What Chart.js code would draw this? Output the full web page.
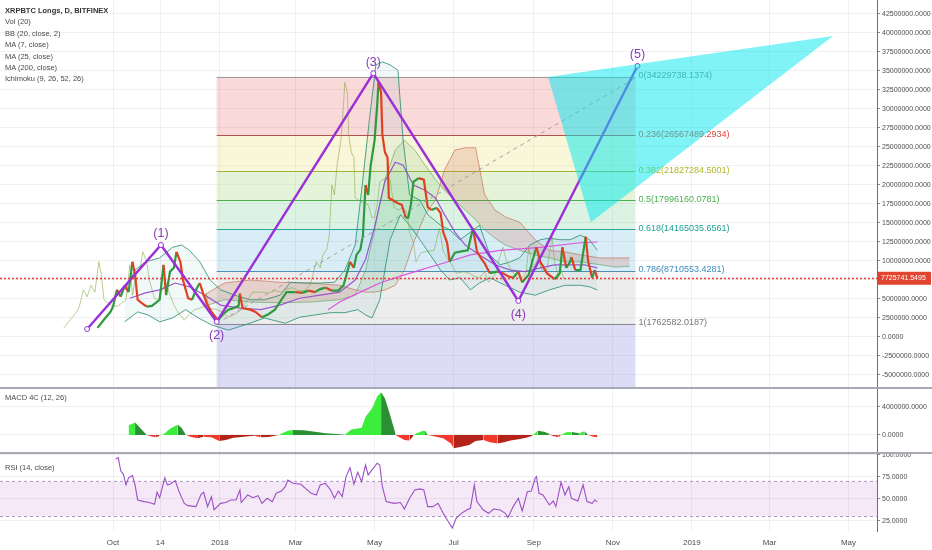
<!DOCTYPE html>
<html>
<head>
<meta charset="utf-8">
<script src="https://cdn.jsdelivr.net/npm/chart.js@4.4.1/dist/chart.umd.min.js"></script>
<style>
    body { margin: 0; background: #fff; width: 932px; height: 550px; overflow: hidden; position: relative;
           font-family: 'Liberation Sans', Arial, sans-serif; }
    canvas { position: absolute; left: 0; }
    #main { top: 0; }
    #macd { top: 389px; }
    #rsi { top: 454px; }
    .sep { position: absolute; left: 0; width: 932px; height: 2px; background: #a7aab2; }
    .legend { position: absolute; left: 5px; font-size: 7.5px; line-height: 11.4px; color: #4a4a4a; z-index: 2; white-space: nowrap; }
    .legend b { color: #333; }
</style>
</head>
<body>
<canvas id="main" width="932" height="387"></canvas>
<div class="sep" style="top:387px"></div>
<canvas id="macd" width="932" height="63"></canvas>
<div class="sep" style="top:452px"></div>
<canvas id="rsi" width="932" height="96"></canvas>

<div class="legend" style="top:5px">
    <b>XRPBTC Longs, D, BITFINEX</b><br>Vol (20)<br>BB (20, close, 2)<br>MA (7, close)<br>MA (25, close)<br>MA (200, close)<br>Ichimoku (9, 26, 52, 26)
</div>
<div class="legend" style="top:392px">MACD 4C (12, 26)</div>
<div class="legend" style="top:462px">RSI (14, close)</div>

<script>
// ---- data (x = daily bar number, Oct 2017 = 0; prices in millions) ----
const xTickDays = [0, 36.5, 82.5, 141, 202, 263, 325, 386, 447, 507, 568];
const xTickLabels = ['Oct', '14', '2018', 'Mar', 'May', 'Jul', 'Sep', 'Nov', '2019', 'Mar', 'May'];

const priceDays = [-12, -6, -2, 0, 3, 6, 9, 12, 15, 17, 19, 22, 26, 30, 33, 36, 39, 41, 44, 47,
    49, 52, 54, 58, 61, 64, 67, 70, 73, 76, 81, 85, 89, 93, 97, 98, 100, 106, 110, 115,
    120, 125, 130, 134, 141, 146, 151, 156, 160, 164, 169, 174, 178, 180, 183, 186, 188, 191, 193, 195,
    197, 199, 202, 204, 205, 207, 208, 210, 212, 213, 216, 220, 223, 226, 228, 230, 232, 236, 240, 243,
    246, 250, 253, 255, 258, 260, 264, 270, 274, 278, 281, 284, 287, 291, 297, 301, 305, 309, 313, 316,
    321, 324, 327, 330, 335, 341, 345, 347, 350, 353, 354, 357, 361, 365, 367, 370, 372, 374];
const priceClose = [1.2, 2.5, 3.3, 4.0, 6.2, 5.3, 6.8, 5.9, 9.9, 8.2, 4.9, 4.5, 4.0, 4.1, 4.5, 4.9, 9.5, 5.5, 8.6, 9.1,
    11.2, 9.9, 7.5, 5.1, 4.9, 6.2, 7.1, 5.5, 4.2, 3.3, 2.2, 3.0, 3.6, 3.8, 4.1, 5.7, 3.8, 3.6, 3.3, 2.6,
    3.0, 3.6, 4.9, 5.9, 5.9, 5.8, 6.1, 5.9, 6.3, 6.5, 6.1, 6.1, 6.8, 8.0, 9.9, 9.1, 10.8, 11.5, 13.4, 20.0,
    18.7, 22.6, 25.9, 30.5, 33.5, 32.2, 26.6, 24.3, 23.6, 18.3, 18.0, 17.6, 17.4, 15.7, 15.7, 17.4, 20.4, 20.9, 20.7, 17.1,
    16.7, 17.0, 16.3, 13.8, 12.4, 9.9, 11.1, 11.3, 11.4, 14.3, 11.3, 10.4, 9.7, 8.4, 8.6, 8.4, 8.0, 7.8, 8.6, 7.2,
    8.2, 10.1, 11.8, 9.9, 8.4, 7.6, 8.4, 11.8, 9.1, 9.9, 10.5, 8.8, 8.8, 13.2, 9.9, 7.8, 8.8, 7.73];
const lastPrice = 7725741.5495;
const laggingShift = 26;

const bbUpperDays = [9, 17, 25, 36, 46, 53, 59, 67, 75, 83, 94, 106, 117, 129, 137, 148, 160, 171, 179, 187,
    192, 198, 203, 208, 214, 220, 224, 229, 237, 243, 253, 260, 268, 276, 283, 291, 299, 307, 314, 322,
    330, 337, 345, 353, 361, 368, 374];
const bbUpper = [6.2, 8.8, 9.9, 10.4, 11.8, 12.1, 11.4, 9.9, 7.5, 6.2, 5.5, 4.9, 4.9, 5.5, 7.2, 7.1, 7.1, 7.2, 8.8, 12.1,
    19.3, 28.6, 35.8, 36.2, 35.8, 35.1, 25.9, 18.7, 18.0, 16.1, 14.7, 14.1, 12.8, 13.8, 14.7, 10.8, 9.5, 9.9, 10.4, 12.1,
    12.8, 13.0, 12.8, 12.8, 13.4, 12.8, 11.4];
const bbLowerDays = [9, 19, 27, 36, 46, 56, 66, 76, 89, 102, 117, 133, 144, 156, 168, 179, 189, 195, 200, 206,
    214, 222, 229, 237, 245, 253, 260, 268, 276, 283, 291, 303, 314, 326, 337, 349, 361, 368, 374];
const bbLower = [2.0, 3.3, 2.9, 2.0, 2.5, 3.6, 2.5, 1.6, 0.9, 1.6, 2.5, 1.8, 2.6, 2.9, 3.2, 3.2, 3.6, 2.9, 2.5, 4.9,
    12.8, 16.1, 14.7, 12.8, 10.8, 8.8, 7.5, 7.8, 6.2, 7.1, 7.8, 6.8, 5.9, 5.5, 6.2, 6.8, 6.8, 6.6, 6.2];

const ma25Days = [13, 25, 36, 48, 59, 71, 83, 98, 114, 129, 144, 160, 175, 187, 195, 202, 210, 218, 224, 232,
    241, 249, 256, 264, 272, 283, 295, 307, 318, 330, 341, 353, 364, 374];
const ma25 = [5.1, 5.8, 6.2, 7.1, 6.6, 5.5, 4.2, 3.8, 3.6, 4.2, 5.1, 5.5, 5.9, 7.5, 10.2, 14.5, 20.5, 23.0, 22.6, 20.0,
    19.3, 18.3, 16.1, 13.8, 12.1, 10.8, 9.5, 8.8, 8.6, 9.1, 9.5, 9.5, 9.5, 9.1];
const ma200Days = [166, 175, 191, 206, 222, 237, 253, 276, 299, 330, 361, 374];
const ma200 = [3.6, 4.6, 5.9, 7.1, 8.0, 8.8, 9.6, 10.8, 11.4, 11.8, 12.4, 12.5];

const cloudDays = [70, 86, 106, 129, 152, 175, 187, 195, 202, 210, 218, 225, 233, 241, 249, 256, 264, 272, 280, 287,
    295, 303, 314, 326, 337, 349, 361, 376, 388, 399];
const spanA = [4.0, 4.9, 4.6, 4.5, 4.6, 4.9, 5.5, 8.8, 14.1, 20.7, 24.6, 25.9, 24.6, 22.6, 20.7, 19.3, 18.0, 16.7, 15.4, 14.1,
    13.0, 12.1, 11.4, 10.8, 10.4, 9.9, 9.9, 9.5, 9.2, 9.3];
const spanB = [5.5, 7.1, 7.5, 7.2, 7.1, 6.8, 6.2, 5.9, 5.9, 6.2, 6.8, 8.8, 12.8, 16.1, 18.0, 22.0, 24.6, 24.9, 24.9, 18.7,
    16.7, 15.8, 15.1, 12.8, 11.4, 11.2, 10.8, 10.4, 10.4, 10.4];

const waveDays = [-20, 37, 80, 201, 313, 405];
const waveValues = [1.05, 12.1, 2.0, 34.7, 4.74, 35.66];
const waveLabels = ['', '(1)', '(2)', '(3)', '(4)', '(5)'];

const fibStartDay = 80;
const fibEndDay = 403.5;
const fibLevelText = ['0', '0.236', '0.382', '0.5', '0.618', '0.786', '1'];
const fibPrices = [34229738.1374, 26567489.2934, 21827284.5001, 17996160.0781, 14165035.6561, 8710553.4281, 1762582.0187];
const fibTrendDays = [80, 405];
const fibTrendValues = [1762582.0187, 34229738.1374];

const triDays = [336, 369, 556];
const triValues = [34.2, 15.1, 39.6];

const macdDays = [12, 17, 21, 26, 30, 33, 36, 39, 44, 50, 53, 56, 59, 65, 70, 76, 82, 87, 93, 101,
    109, 114, 120, 128, 131, 135, 139, 147, 156, 164, 175, 179, 184, 192, 195, 200, 204, 207, 210, 214,
    218, 219, 225, 229, 232, 234, 239, 241, 243, 247, 255, 261, 263, 269, 275, 280, 286, 291, 297, 302,
    307, 313, 319, 324, 326, 328, 333, 337, 339, 344, 346, 350, 354, 360, 364, 367, 371, 374];
const macdHist = [1.4, 1.8, 1.0, 0, -0.2, -0.33, -0.1, 0.1, 0.9, 1.5, 1.0, 0.1, -0.2, -0.48, -0.24, -0.33, -0.86, -0.7, -0.38, -0.24,
    -0.1, -0.33, -0.29, 0, 0.3, 0.62, 0.71, 0.67, 0.48, 0.24, 0.1, 0.05, 0.8, 1.05, 2.6, 3.8, 5.5, 6.1, 5.2, 2.86,
    0.24, -0.1, -0.71, -0.8, -0.1, 0.2, 0.57, 0.6, 0, -0.14, -0.48, -1.2, -1.9, -1.67, -1.43, -0.86, -0.71, -1.05, -1.2, -1.05,
    -0.8, -0.62, -0.38, -0.1, 0.3, 0.62, 0.48, 0.14, -0.1, -0.33, 0, 0.38, 0.43, 0.24, 0.52, 0, -0.24, -0.33];

const rsiDays = [2, 4, 6, 8, 10, 12, 15, 17, 19, 24, 28, 32, 34, 36, 40, 42, 44, 48, 51, 55,
    58, 64, 68, 70, 73, 76, 78, 83, 87, 91, 95, 98, 99, 104, 108, 112, 115, 119, 123, 126,
    130, 133, 135, 139, 145, 149, 153, 157, 160, 164, 168, 171, 174, 177, 180, 183, 186, 189, 192, 195,
    197, 200, 204, 206, 208, 211, 217, 222, 225, 229, 233, 237, 240, 243, 247, 251, 255, 259, 262, 265,
    269, 273, 276, 279, 281, 286, 290, 294, 299, 303, 305, 309, 313, 316, 320, 323, 326, 327, 329, 332,
    337, 340, 342, 346, 349, 352, 354, 359, 363, 366, 370, 372, 374];
const rsiValues = [95.5, 97, 81.8, 78, 66, 74, 76.5, 66, 48.9, 47, 46, 44, 57.6, 51.5, 74, 66, 66.7, 70.8, 58.3, 45,
    42.4, 41.3, 55.3, 57.6, 41.3, 52.6, 37.5, 45, 46, 48.9, 48.9, 60.2, 46, 54.5, 51.5, 53.8, 45, 50.8, 47, 56.5,
    59, 64, 71.6, 67.8, 66.7, 61.4, 56.5, 54.5, 66, 67.8, 60.2, 50.8, 59, 52.6, 75.4, 85.6, 66.7, 80.3, 69.7, 88.6,
    77.3, 83, 90.6, 88.6, 64, 47, 45, 46, 38.6, 50.8, 60.2, 61.4, 60.2, 41.3, 41.3, 45, 33.7, 24.2, 17, 28,
    33.7, 37.5, 39.4, 66, 47, 37.5, 33.7, 38.6, 37.5, 33.7, 28.8, 41.3, 50.8, 36.4, 58.3, 59, 73.5, 75.4, 56.5, 54.5,
    43.2, 47.7, 41.3, 69, 54.5, 64, 50.8, 47.7, 66, 47, 45, 48.9, 47];
const rsiUpper = 70;
const rsiLower = 30;

const mainTicks = [-5, -2.5, 0, 2.5, 5, 7.5, 10, 12.5, 15, 17.5, 20, 22.5, 25, 27.5, 30, 32.5, 35, 37.5, 40, 42.5];
const macdTicks = [0, 4];
const rsiTicks = [25, 50, 75, 100];

// ---- helpers ----
const M = 1e6;
const X_MIN = -87.3;
const X_MAX = 590;
const FONT = "'Liberation Sans', Arial, sans-serif";
const GRID = 'rgba(42, 46, 57, 0.07)';
const pts = (xs, ys, k = 1) => xs.map((x, i) => ({ x: x, y: ys[i] * k }));

Chart.defaults.font.family = FONT;

function xAxis(showLabels) {
    return {
        type: 'linear',
        min: X_MIN,
        max: X_MAX,
        afterBuildTicks: s => { s.ticks = xTickDays.map(v => ({ value: v })); },
        afterFit: s => {
            s.height = showLabels ? 19 : 0;
            s.paddingLeft = 0;
            s.paddingRight = 0;
        },
        grid: { color: GRID, drawTicks: false },
        border: { display: false },
        ticks: {
            display: showLabels,
            autoSkip: false,
            maxRotation: 0,
            padding: 7,
            color: '#4d4d4d',
            font: { size: 8 },
            callback: (v, i) => xTickLabels[i]
        }
    };
}

function yAxis(min, max, ticks, k) {
    return {
        position: 'right',
        min: min,
        max: max,
        afterBuildTicks: s => { s.ticks = ticks.map(v => ({ value: v * k })); },
        afterFit: s => {
            s.width = 55;
            s.paddingTop = 0;
            s.paddingBottom = 0;
        },
        grid: { color: GRID, tickColor: '#8a8d94', tickLength: 3 },
        border: { display: true, color: '#6b6e75' },
        ticks: { color: '#4d4d4d', font: { size: 7 }, padding: 2, callback: v => Number(v).toFixed(4) }
    };
}

const baseOptions = {
    responsive: false,
    animation: false,
    events: [],
    layout: { padding: 0, autoPadding: false },
    plugins: { legend: { display: false }, tooltip: { enabled: false } },
    elements: { point: { radius: 0 }, line: { tension: 0 } }
};

// ---- fib retracement backdrop ----
const fibFill = ['rgba(236, 120, 120, 0.28)', 'rgba(236, 226, 140, 0.32)', 'rgba(170, 220, 130, 0.30)',
    'rgba(120, 210, 150, 0.26)', 'rgba(120, 190, 225, 0.28)', 'rgba(200, 200, 200, 0.33)', 'rgba(150, 150, 230, 0.33)'];
const fibLine = ['#9a9a9a', '#b5504a', '#9fb33a', '#4caf50', '#2aa59a', '#4a8fb8', '#8a8a8a'];
const fibText = ['#808a92', '#e0453a', '#b3b526', '#4caf50', '#1f9f93', '#3a8fc0', '#777'];

const fibPlugin = {
    id: 'fib',
    beforeDatasetsDraw(chart) {
        const { ctx, chartArea, scales: { x, y } } = chart;
        const x0 = x.getPixelForValue(fibStartDay);
        const x1 = x.getPixelForValue(fibEndDay);
        ctx.save();
        fibPrices.forEach((p, i) => {
            const top = y.getPixelForValue(p);
            const bot = i + 1 < fibPrices.length ? y.getPixelForValue(fibPrices[i + 1]) : chartArea.bottom;
            ctx.fillStyle = fibFill[i];
            ctx.fillRect(x0, top, x1 - x0, bot - top);
        });
        ctx.lineWidth = 1;
        fibPrices.forEach((p, i) => {
            const py = Math.round(y.getPixelForValue(p)) + 0.5;
            ctx.strokeStyle = fibLine[i];
            ctx.beginPath();
            ctx.moveTo(x0, py);
            ctx.lineTo(x1, py);
            ctx.stroke();
        });
        ctx.restore();
    }
};

const waveBelow = [false, false, true, false, true, false];

const overlayPlugin = {
    id: 'overlay',
    afterDatasetsDraw(chart) {
        const { ctx, chartArea: a, scales: { x, y } } = chart;
        ctx.save();

        // fib labels
        ctx.font = '9px ' + FONT;
        ctx.textAlign = 'left';
        ctx.textBaseline = 'middle';
        const lx = x.getPixelForValue(fibEndDay) + 3;
        fibPrices.forEach((p, i) => {
            ctx.fillStyle = fibText[i];
            ctx.fillText(fibLevelText[i] + '(' + p.toFixed(4) + ')', lx, y.getPixelForValue(p) - 1);
        });

        // projection triangle
        ctx.beginPath();
        triDays.forEach((d, i) => {
            const px = x.getPixelForValue(d);
            const py = y.getPixelForValue(triValues[i] * M);
            if (i === 0) ctx.moveTo(px, py); else ctx.lineTo(px, py);
        });
        ctx.closePath();
        ctx.fillStyle = 'rgba(0, 232, 236, 0.5)';
        ctx.fill();

        // last price line
        const py = Math.round(y.getPixelForValue(lastPrice)) + 0.5;
        ctx.strokeStyle = '#e53935';
        ctx.lineWidth = 1.5;
        ctx.setLineDash([2, 2]);
        ctx.beginPath();
        ctx.moveTo(a.left, py);
        ctx.lineTo(a.right, py);
        ctx.stroke();
        ctx.setLineDash([]);

        // wave labels
        ctx.font = '12.5px ' + FONT;
        ctx.textAlign = 'center';
        ctx.fillStyle = '#8a3bb8';
        waveLabels.forEach((t, i) => {
            if (!t) return;
            const wx = x.getPixelForValue(waveDays[i]);
            const wy = y.getPixelForValue(waveValues[i] * M);
            ctx.fillText(t, wx, wy + (waveBelow[i] ? 14 : -11));
        });
        ctx.restore();
    },
    afterDraw(chart) {
        const { ctx, chartArea: a, scales: { y } } = chart;
        const py = y.getPixelForValue(lastPrice);
        ctx.save();
        ctx.fillStyle = '#e2452f';
        ctx.fillRect(a.right + 1, py - 6.5, 53, 13);
        ctx.fillStyle = '#fff';
        ctx.font = '7px ' + FONT;
        ctx.textBaseline = 'middle';
        ctx.textAlign = 'left';
        ctx.fillText(lastPrice.toFixed(4), a.right + 4, py);
        ctx.restore();
    }
};

// ---- main price pane ----
const mainDatasets = [
    { // 0 elliott wave
        data: pts(waveDays, waveValues, M), borderColor: '#9b30d8', borderWidth: 2.4,
        pointRadius: 2.5, pointBackgroundColor: '#fff', pointBorderColor: '#9b30d8', pointBorderWidth: 1, order: 0
    },
    { // 1 fib trend line
        data: pts(fibTrendDays, fibTrendValues), borderColor: '#a0a0a0', borderWidth: 1, borderDash: [4, 4], order: 1
    },
    { // 2 price
        data: pts(priceDays, priceClose, M), borderColor: '#2f9e44', borderWidth: 2.2, order: 2,
        segment: { borderColor: c => c.p1.parsed.y >= c.p0.parsed.y ? '#2e9a3e' : '#e0401f' }
    },
    { // 3 MA25
        data: pts(ma25Days, ma25, M), borderColor: 'rgba(150, 70, 205, 0.9)', borderWidth: 1.2, order: 3
    },
    { // 4 MA200
        data: pts(ma200Days, ma200, M), borderColor: 'rgba(225, 70, 225, 0.9)', borderWidth: 1.2, order: 4
    },
    { // 5 lagging span
        data: pts(priceDays.map(d => d - laggingShift), priceClose, M), borderColor: 'rgba(130, 165, 60, 0.55)',
        borderWidth: 1, order: 5
    },
    { // 6 BB upper
        data: pts(bbUpperDays, bbUpper, M), borderColor: 'rgba(38, 140, 110, 0.8)', borderWidth: 1,
        fill: 7, backgroundColor: 'rgba(40, 160, 150, 0.07)', order: 6
    },
    { // 7 BB lower
        data: pts(bbLowerDays, bbLower, M), borderColor: 'rgba(38, 140, 110, 0.8)', borderWidth: 1, order: 7
    },
    { // 8 ichimoku span A
        data: pts(cloudDays, spanA, M), borderColor: 'rgba(90, 160, 90, 0.6)', borderWidth: 1, order: 8,
        fill: { target: 9, above: 'rgba(90, 175, 90, 0.14)', below: 'rgba(205, 95, 70, 0.2)' }
    },
    { // 9 ichimoku span B
        data: pts(cloudDays, spanB, M), borderColor: 'rgba(200, 90, 70, 0.6)', borderWidth: 1, order: 9
    }
];

new Chart(document.getElementById('main'), {
    type: 'line',
    data: { datasets: mainDatasets },
    options: Object.assign({}, baseOptions, {
        scales: { x: xAxis(false), y: yAxis(-6.58 * M, 44.34 * M, mainTicks, M) }
    }),
    plugins: [fibPlugin, overlayPlugin]
});

// ---- MACD 4C pane ----
function macdColor(c) {
    const a = c.p0.parsed.y, b = c.p1.parsed.y;
    if (a >= 0 && b >= 0) return b >= a ? '#3ded3d' : '#2c8f34';
    if (a <= 0 && b <= 0) return b <= a ? '#f0382b' : '#b3231a';
    return b > 0 ? '#3ded3d' : '#f0382b';
}

new Chart(document.getElementById('macd'), {
    type: 'line',
    data: {
        datasets: [{
            data: pts(macdDays, macdHist, M), borderColor: 'rgba(0,0,0,0)', borderWidth: 1,
            fill: 'origin', backgroundColor: '#3ded3d', segment: { backgroundColor: macdColor }
        }]
    },
    options: Object.assign({}, baseOptions, {
        scales: { x: xAxis(false), y: yAxis(-2.43 * M, 6.57 * M, macdTicks, M) }
    })
});

// ---- RSI pane ----
new Chart(document.getElementById('rsi'), {
    type: 'line',
    data: {
        datasets: [
            { data: pts(rsiDays, rsiValues), borderColor: '#9b4fc6', borderWidth: 1.1 },
            {
                data: [{ x: X_MIN, y: rsiUpper }, { x: X_MAX, y: rsiUpper }], borderColor: 'rgba(150, 130, 175, 0.8)',
                borderWidth: 1, borderDash: [3, 3], fill: 2, backgroundColor: 'rgba(156, 39, 176, 0.1)'
            },
            {
                data: [{ x: X_MIN, y: rsiLower }, { x: X_MAX, y: rsiLower }], borderColor: 'rgba(150, 130, 175, 0.8)',
                borderWidth: 1, borderDash: [3, 3]
            }
        ]
    },
    options: Object.assign({}, baseOptions, {
        scales: { x: xAxis(true), y: yAxis(13.6, 101.1, rsiTicks, 1) }
    })
});
</script>
</body>
</html>
